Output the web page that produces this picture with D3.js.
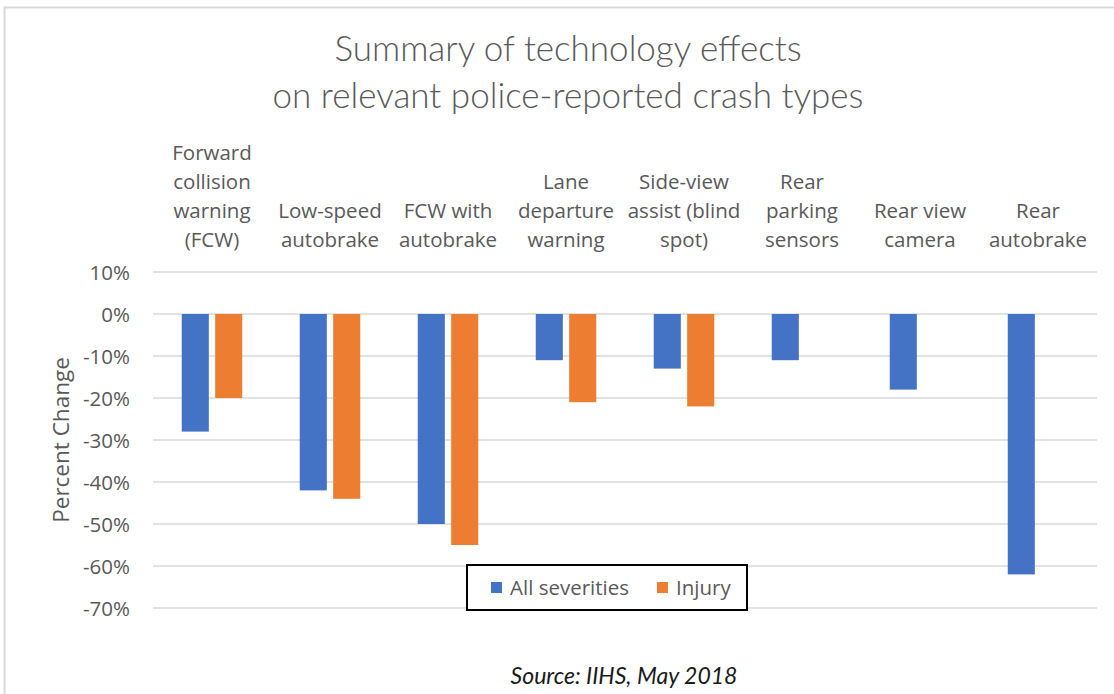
<!DOCTYPE html>
<html>
<head>
<meta charset="utf-8">
<script src="https://cdn.jsdelivr.net/npm/d3@7"></script>
<style>
  body { margin: 0; background: #fff; }
  svg { display: block; }
  .tick text { font-family: "Open Sans", sans-serif; }
</style>
</head>
<body>
<div id="chart"></div>
<script>
// data
const categories = [
  ["Forward", "collision", "warning", "(FCW)"],
  ["Low-speed", "autobrake"],
  ["FCW with", "autobrake"],
  ["Lane", "departure", "warning"],
  ["Side-view", "assist (blind", "spot)"],
  ["Rear", "parking", "sensors"],
  ["Rear view", "camera"],
  ["Rear", "autobrake"]
];
const seriesNames = ["All severities", "Injury"];
const allSeverities = [-28, -42, -50, -11, -13, -11, -18, -62];
const injury = [-20, -44, -55, -21, -22, null, null, null];
const yTicks = [10, 0, -10, -20, -30, -40, -50, -60, -70];
const colors = ["#4472c4", "#ed7d31"];

const W = 1114, H = 694;
const margin = { top: 272, right: 17, bottom: 86, left: 153 };
const labelFont = "'Open Sans', sans-serif";

const svg = d3.select("#chart").append("svg")
    .attr("width", W)
    .attr("height", H);

// outer frame of the chart
svg.append("rect")
    .attr("x", 4.5).attr("y", 7.5)
    .attr("width", W + 10).attr("height", H + 10)
    .attr("fill", "#fff")
    .attr("stroke", "#d9d9d9")
    .attr("stroke-width", 2);

const x = d3.scaleBand()
    .domain(d3.range(categories.length))
    .range([margin.left, W - margin.right]);

const y = d3.scaleLinear()
    .domain([10, -70])
    .range([margin.top, H - margin.bottom]);

const inner = d3.scaleBand()
    .domain([0, 1])
    .range([0, x.bandwidth()])
    .paddingInner(0.19)
    .paddingOuter(0.86);

// gridlines
svg.append("g")
    .selectAll("line")
    .data(yTicks)
    .enter().append("line")
      .attr("x1", margin.left)
      .attr("x2", W - margin.right)
      .attr("y1", d => y(d))
      .attr("y2", d => y(d))
      .attr("stroke", "#d9d9d9")
      .attr("stroke-width", 1.5);

// y axis labels
const yAxis = svg.append("g")
    .attr("transform", "translate(" + (margin.left - 20) + ",0)")
    .call(d3.axisLeft(y).tickValues(yTicks).tickSize(0).tickFormat(d => d + "%"));
yAxis.select(".domain").remove();
yAxis.selectAll("text")
    .attr("fill", "#595959")
    .style("font-size", "20.5px")
    .attr("dy", "0.35em");

svg.append("text")
    .attr("transform", "translate(61," + y(-30) + ") rotate(-90)")
    .attr("text-anchor", "middle")
    .attr("dy", "0.35em")
    .attr("fill", "#595959")
    .style("font-family", labelFont)
    .style("font-size", "22.5px")
    .text("Percent Change");

// bars
const series = [allSeverities, injury];
series.forEach((vals, s) => {
  svg.append("g")
    .selectAll("rect")
    .data(vals.map((v, i) => ({ v: v, i: i })).filter(d => d.v !== null))
    .enter().append("rect")
      .attr("x", d => x(d.i) + inner(s))
      .attr("width", inner.bandwidth())
      .attr("y", y(0))
      .attr("height", d => y(d.v) - y(0))
      .attr("fill", colors[s]);
});

// category labels above the plot
const lineH = 29;
const catG = svg.append("g");
categories.forEach((lines, i) => {
  const t = catG.append("text")
      .attr("text-anchor", "middle")
      .attr("fill", "#595959")
      .style("font-family", labelFont)
      .style("font-size", "20.5px");
  lines.forEach((ln, j) => {
    t.append("tspan")
      .attr("x", x(i) + x.bandwidth() / 2)
      .attr("y", 247 - (lines.length - 1 - j) * lineH)
      .text(ln);
  });
});

// title
const title = svg.append("text")
    .attr("text-anchor", "middle")
    .attr("fill", "#595959")
    .style("font-family", "Lato, sans-serif")
    .style("font-weight", 300)
    .style("font-size", "35px");
title.append("tspan").attr("x", 568).attr("y", 61).text("Summary of technology effects");
title.append("tspan").attr("x", 568).attr("y", 108).text("on relevant police-reported crash types");

// legend
const legend = svg.append("g");
legend.append("rect")
    .attr("x", 467).attr("y", 565)
    .attr("width", 280).attr("height", 45)
    .attr("fill", "#fff")
    .attr("stroke", "#000")
    .attr("stroke-width", 2);
const legX = [491, 657];
seriesNames.forEach((name, s) => {
  legend.append("rect")
    .attr("x", legX[s]).attr("y", 582)
    .attr("width", 11).attr("height", 11)
    .attr("fill", colors[s]);
  legend.append("text")
    .attr("x", legX[s] + 19).attr("y", 588)
    .attr("dy", "0.35em")
    .attr("fill", "#595959")
    .style("font-family", labelFont)
    .style("font-size", "20.5px")
    .text(name);
});

// source note
svg.append("text")
    .attr("x", 624).attr("y", 684)
    .attr("text-anchor", "middle")
    .attr("fill", "#1a1a1a")
    .style("font-family", "Lato, sans-serif")
    .style("font-style", "italic")
    .style("font-size", "23px")
    .text("Source: IIHS, May 2018");
</script>
</body>
</html>
